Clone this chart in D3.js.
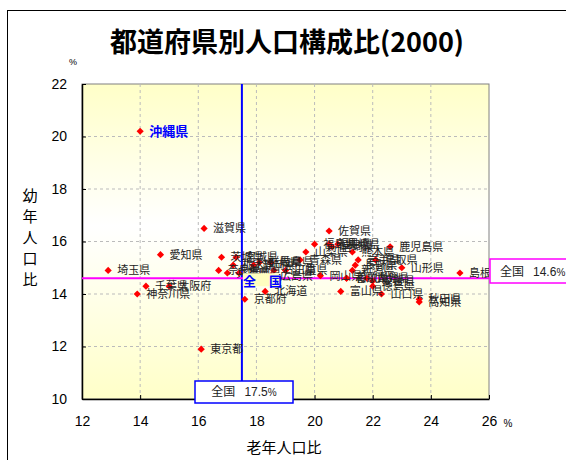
<!DOCTYPE html>
<html>
<head>
<meta charset="utf-8">
<script src="https://cdn.jsdelivr.net/npm/d3@7"></script>
<style>
  body { margin: 0; background: #fff; }
  svg { display: block; font-family: "Liberation Sans", Arial, sans-serif; }
  .jp { font-family: "Noto Sans CJK JP", sans-serif; }
</style>
</head>
<body>
<div id="chart"></div>
<script>
// prefectures (2000 census), elderly share (x) and child share (y), in %
var prefs = ["北海道","青森県","岩手県","宮城県","秋田県","山形県","福島県","茨城県","栃木県","群馬県",
  "埼玉県","千葉県","東京都","神奈川県","新潟県","富山県","石川県","福井県","山梨県","長野県",
  "岐阜県","静岡県","愛知県","三重県","滋賀県","京都府","大阪府","兵庫県","奈良県","和歌山県",
  "鳥取県","島根県","岡山県","広島県","山口県","徳島県","香川県","愛媛県","高知県","福岡県",
  "佐賀県","長崎県","熊本県","大分県","宮崎県","鹿児島県","沖縄県"];
var elderly = [18.3,19.5,21.5,17.3,23.6,23.0,20.0,16.8,17.2,18.1,
  12.9,14.2,16.1,13.9,21.3,20.9,18.6,20.5,19.7,21.4,
  18.5,17.9,14.7,19.0,16.2,17.6,15.0,17.0,16.7,21.1,
  22.1,25.0,20.2,18.5,22.3,22.0,21.1,22.0,23.6,17.4,
  20.5,20.8,21.3,21.8,20.6,22.6,14.0];
var young = [14.1,15.3,15.3,15.4,13.8,15.0,15.9,15.4,15.1,15.2,
  14.9,14.3,11.9,14.0,14.9,14.1,14.9,15.9,15.6,15.1,
  15.2,15.1,15.5,14.9,16.5,13.8,14.3,14.8,14.9,14.6,
  15.3,14.8,14.7,14.7,14.0,14.3,14.6,14.5,13.7,14.8,
  16.4,15.9,15.6,14.6,15.8,15.8,20.2];
var natElderly = 17.5, natYoung = 14.6;
var xTicks = [12,14,16,18,20,22,24,26];
var yTicks = [10,12,14,16,18,20,22];

var W = 566, H = 460;
var svg = d3.select("#chart").append("svg").attr("width", W).attr("height", H);

// outer chart frame (continues past the right/bottom edge)
svg.append("rect").attr("x", 7.5).attr("y", 10.5).attr("width", 700).attr("height", 600)
  .attr("fill", "#fff").attr("stroke", "#000").attr("stroke-width", 1);

svg.append("text").attr("class", "jp").attr("x", 287).attr("y", 52)
  .attr("text-anchor", "middle").style("font-size", "27px").style("font-weight", "bold")
  .text("都道府県別人口構成比(2000)");

var x = d3.scaleLinear().domain([12, 26]).range([82, 489]);
var y = d3.scaleLinear().domain([10, 22]).range([399, 84]);

var defs = svg.append("defs");
var grad = defs.append("linearGradient").attr("id", "bg").attr("x1", 0).attr("y1", 0).attr("x2", 0).attr("y2", 1);
grad.append("stop").attr("offset", "0%").attr("stop-color", "#ffffc8");
grad.append("stop").attr("offset", "45%").attr("stop-color", "#ffffff");
grad.append("stop").attr("offset", "100%").attr("stop-color", "#ffffc8");
defs.append("clipPath").attr("id", "plotclip").append("rect")
  .attr("x", x(12)).attr("y", y(22)).attr("width", x(26) - x(12)).attr("height", y(10) - y(22));

svg.append("rect").attr("x", x(12)).attr("y", y(22)).attr("width", x(26) - x(12)).attr("height", y(10) - y(22))
  .attr("fill", "url(#bg)").attr("stroke", "#808080");

// grid
svg.append("g").selectAll("line").data(xTicks.slice(1, -1)).join("line")
  .attr("x1", d => x(d)).attr("x2", d => x(d)).attr("y1", y(22)).attr("y2", y(10))
  .attr("stroke", "#bbb").attr("stroke-dasharray", "3,3");
svg.append("g").selectAll("line").data(yTicks.slice(1, -1)).join("line")
  .attr("y1", d => y(d)).attr("y2", d => y(d)).attr("x1", x(12)).attr("x2", x(26))
  .attr("stroke", "#bbb").attr("stroke-dasharray", "3,3");

// axes
var xAxis = svg.append("g").attr("transform", "translate(0," + y(10) + ")")
  .call(d3.axisBottom(x).tickValues(xTicks).tickSizeInner(-4).tickSizeOuter(0).tickPadding(17));
var yAxis = svg.append("g").attr("transform", "translate(" + x(12) + ",0)")
  .call(d3.axisLeft(y).tickValues(yTicks).tickSizeInner(-4).tickSizeOuter(0).tickPadding(15));
[xAxis, yAxis].forEach(g => {
  g.select(".domain").attr("stroke", "#000").attr("stroke-width", 1.5);
  g.selectAll("text").style("font-size", "14px").attr("fill", "#000")
    .style("font-family", "'Liberation Sans', Arial, sans-serif");
});

svg.append("text").attr("x", 73).attr("y", 65).attr("text-anchor", "middle").style("font-size", "9px").text("%");
svg.append("text").attr("x", 508).attr("y", 427).attr("text-anchor", "middle").style("font-size", "10px").text("%");

svg.append("text").attr("class", "jp").attr("x", 284).attr("y", 453).attr("text-anchor", "middle")
  .style("font-size", "15px").text("老年人口比");
svg.append("g").selectAll("text").data("幼年人口比".split("")).join("text")
  .attr("class", "jp").attr("x", 30).attr("y", (d, i) => 201 + i * 21).attr("text-anchor", "middle")
  .style("font-size", "15px").text(d => d);

// national lines
svg.append("line").attr("x1", x(natElderly)).attr("x2", x(natElderly)).attr("y1", y(22)).attr("y2", 381)
  .attr("stroke", "#0000ff").attr("stroke-width", 2);
svg.append("line").attr("x1", x(12)).attr("x2", x(26)).attr("y1", y(natYoung)).attr("y2", y(natYoung))
  .attr("stroke", "#ff00ff").attr("stroke-width", 2);

// points + labels
var rows = prefs.map((p, i) => ({ name: p, ex: elderly[i], yo: young[i] }));
var pts = svg.append("g").attr("clip-path", "url(#plotclip)");
pts.selectAll("path").data(rows).join("path")
  .attr("transform", d => "translate(" + x(d.ex) + "," + y(d.yo) + ")")
  .attr("d", "M0,-3.6L3.6,0L0,3.6L-3.6,0Z").attr("fill", "#ff0000");
pts.selectAll("text").data(rows).join("text").attr("class", "jp")
  .attr("x", d => x(d.ex) + 9).attr("y", d => y(d.yo)).attr("dy", "0.36em")
  .style("font-size", d => d.name === "沖縄県" ? "13px" : "11px")
  .style("font-weight", d => d.name === "沖縄県" ? "bold" : "normal")
  .attr("fill", d => d.name === "沖縄県" ? "#0000ff" : "#222")
  .text(d => d.name);

// national marker label
svg.append("rect").attr("x", x(natElderly) + 1).attr("y", y(natYoung) - 5).attr("width", 36).attr("height", 13)
  .attr("fill", "#ffffc0");
svg.append("text").attr("class", "jp").attr("x", x(natElderly) + 1).attr("y", y(natYoung) + 8)
  .style("font-size", "13px").style("font-weight", "bold").attr("fill", "#0000ff").text("全　国");

// callout boxes
svg.append("rect").attr("x", x(26) + 1).attr("y", 259).attr("width", 90).attr("height", 24)
  .attr("fill", "#fff").attr("stroke", "#ff00ff").attr("stroke-width", 1.5);
var t1 = svg.append("text").attr("x", 500).attr("y", 276).style("font-size", "12px").attr("fill", "#222");
t1.append("tspan").attr("class", "jp").text("全国");
t1.append("tspan").attr("dx", 9).text(natYoung.toFixed(1));
t1.append("tspan").style("font-size", "10px").text("%");

svg.append("rect").attr("x", 195).attr("y", 381).attr("width", 98).attr("height", 22)
  .attr("fill", "#fff").attr("stroke", "#0000ff").attr("stroke-width", 1.5);
var t2 = svg.append("text").attr("x", 244).attr("y", 396).attr("text-anchor", "middle")
  .style("font-size", "12px").attr("fill", "#222");
t2.append("tspan").attr("class", "jp").text("全国");
t2.append("tspan").attr("dx", 9).text(natElderly.toFixed(1));
t2.append("tspan").style("font-size", "10px").text("%");
</script>
</body>
</html>
